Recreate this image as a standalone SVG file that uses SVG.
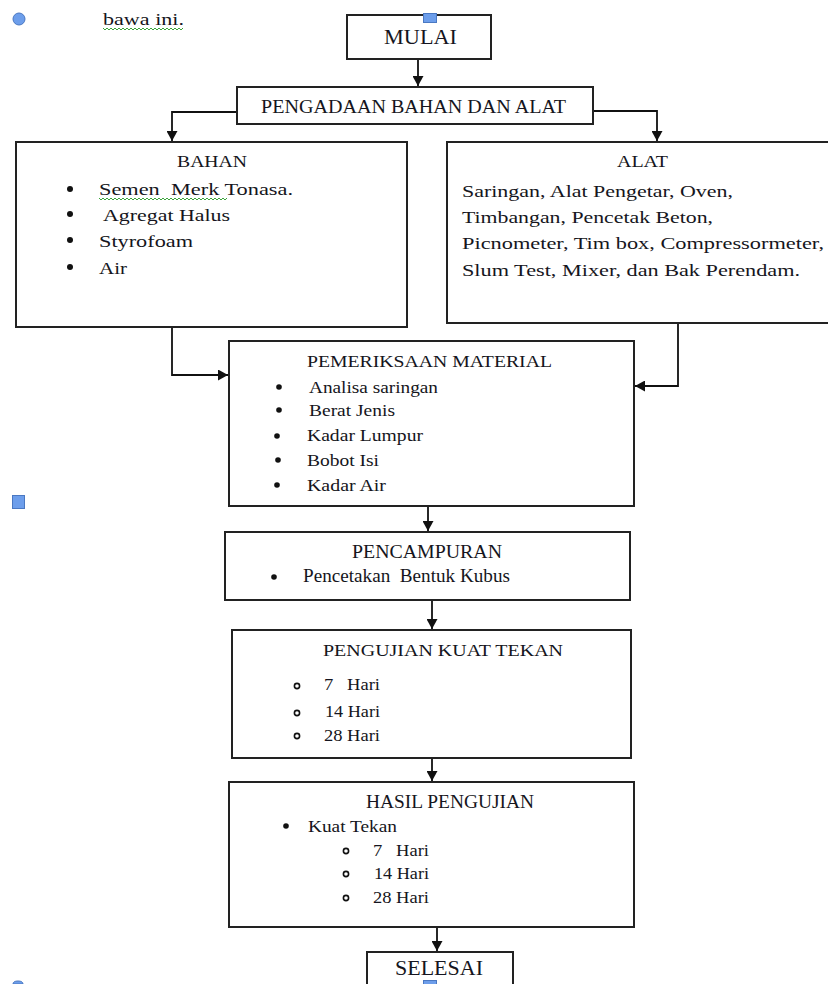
<svg xmlns="http://www.w3.org/2000/svg" width="828" height="984" viewBox="0 0 828 984">
<style>
.box{fill:#fff;stroke:#222;stroke-width:2}
.t{font-family:"Liberation Serif","Times New Roman",serif;fill:#151520;white-space:pre}
.c{fill:none;stroke:#111;stroke-width:1.8}
.dot{fill:#111}
.o{fill:none;stroke:#111;stroke-width:1.6}
.blue{fill:#6d9eeb;stroke:#4a78c2;stroke-width:1}
.wave{fill:none;stroke:#3aa53a;stroke-width:1}
</style>
<defs>
<marker id="ah" markerUnits="userSpaceOnUse" markerWidth="11" markerHeight="11" refX="10" refY="5.5" orient="auto">
<path d="M0,0 L10,5.5 L0,11 z" fill="#111"/>
</marker>
</defs>
<rect width="828" height="984" fill="#fff"/>

<g id="page-marks">
<circle class="blue" cx="19" cy="19" r="6"/>
<text class="t" x="103" y="25" font-size="17" textLength="81" lengthAdjust="spacingAndGlyphs">bawa ini.</text>
<path class="wave" d="M103,28 l2,2 l2,-2 l2,2 l2,-2 l2,2 l2,-2 l2,2 l2,-2 l2,2 l2,-2 l2,2 l2,-2 l2,2 l2,-2 l2,2 l2,-2 l2,2 l2,-2 l2,2 l2,-2 l2,2 l2,-2 l2,2 l2,-2 l2,2 l2,-2 l2,2 l2,-2 l2,2 l2,-2 l2,2 l2,-2 l2,2 l2,-2 l2,2 l2,-2 l2,2 l2,-2 l2,2 l2,-2"/>
<rect class="blue" x="12.5" y="495.5" width="12" height="13"/>
<path class="blue" d="M13,984 a5,3 0 0 1 10,0 z"/>
</g>

<g id="connectors">
<path class="c" d="M418,59 V86" marker-end="url(#ah)"/>
<path class="c" d="M237,112 H172 V141" marker-end="url(#ah)"/>
<path class="c" d="M593,111 H657 V141" marker-end="url(#ah)"/>
<path class="c" d="M172,327 V375 H228" marker-end="url(#ah)"/>
<path class="c" d="M678,323 V386 H635" marker-end="url(#ah)"/>
<path class="c" d="M428,506 V531" marker-end="url(#ah)"/>
<path class="c" d="M432,600 V629" marker-end="url(#ah)"/>
<path class="c" d="M432,758 V781" marker-end="url(#ah)"/>
<path class="c" d="M437,927 V951" marker-end="url(#ah)"/>
</g>

<g id="mulai">
<rect class="box" x="347" y="15" width="144" height="44"/>
<text class="t" x="384" y="44" font-size="21" textLength="73" lengthAdjust="spacingAndGlyphs">MULAI</text>
<rect class="blue" x="423.5" y="13.5" width="13" height="9"/>
</g>

<g id="pengadaan">
<rect class="box" x="237" y="87" width="356" height="37"/>
<text class="t" x="261" y="113" font-size="19.5" textLength="305" lengthAdjust="spacingAndGlyphs">PENGADAAN BAHAN DAN ALAT</text>
</g>

<g id="bahan">
<rect class="box" x="16" y="142" width="391" height="185"/>
<text class="t" x="177" y="167" font-size="16.5" textLength="70" lengthAdjust="spacingAndGlyphs">BAHAN</text>
<circle class="dot" cx="70" cy="189" r="3"/>
<circle class="dot" cx="70" cy="214" r="3"/>
<circle class="dot" cx="70" cy="240" r="3"/>
<circle class="dot" cx="70" cy="267" r="3"/>
<text class="t" x="99" y="195" font-size="17.5" textLength="194" lengthAdjust="spacingAndGlyphs">Semen  Merk Tonasa.</text>
<path class="wave" d="M99,198 l2,2 l2,-2 l2,2 l2,-2 l2,2 l2,-2 l2,2 l2,-2 l2,2 l2,-2 l2,2 l2,-2 l2,2 l2,-2 l2,2 l2,-2 l2,2 l2,-2 l2,2 l2,-2 l2,2 l2,-2 l2,2 l2,-2 l2,2 l2,-2 l2,2 l2,-2 l2,2 l2,-2 l2,2 l2,-2 l2,2 l2,-2 l2,2 l2,-2 l2,2 l2,-2 l2,2 l2,-2 l2,2 l2,-2 l2,2 l2,-2 l2,2 l2,-2 l2,2 l2,-2 l2,2 l2,-2 l2,2 l2,-2 l2,2 l2,-2 l2,2 l2,-2 l2,2 l2,-2 l2,2 l2,-2 l2,2 l2,-2 l2,2 l2,-2"/>
<text class="t" x="103" y="221" font-size="17.5" textLength="127" lengthAdjust="spacingAndGlyphs">Agregat Halus</text>
<text class="t" x="99" y="247" font-size="17.5" textLength="94" lengthAdjust="spacingAndGlyphs">Styrofoam</text>
<text class="t" x="99" y="274" font-size="17.5" textLength="28" lengthAdjust="spacingAndGlyphs">Air</text>
</g>

<g id="alat">
<rect class="box" x="447" y="142" width="395" height="181"/>
<text class="t" x="617" y="167" font-size="17" textLength="51" lengthAdjust="spacingAndGlyphs">ALAT</text>
<text class="t" x="462" y="197" font-size="17.5" textLength="271" lengthAdjust="spacingAndGlyphs">Saringan, Alat Pengetar, Oven,</text>
<text class="t" x="462" y="223" font-size="17.5" textLength="251" lengthAdjust="spacingAndGlyphs">Timbangan, Pencetak Beton,</text>
<text class="t" x="462" y="249" font-size="17.5" textLength="362" lengthAdjust="spacingAndGlyphs">Picnometer, Tim box, Compressormeter,</text>
<text class="t" x="462" y="276" font-size="17.5" textLength="338" lengthAdjust="spacingAndGlyphs">Slum Test, Mixer, dan Bak Perendam.</text>
</g>

<g id="pemeriksaan">
<rect class="box" x="229" y="341" width="405" height="165"/>
<text class="t" x="307" y="367" font-size="17.5" textLength="245" lengthAdjust="spacingAndGlyphs">PEMERIKSAAN MATERIAL</text>
<circle class="dot" cx="279" cy="387" r="2.8"/>
<circle class="dot" cx="279" cy="410" r="2.8"/>
<circle class="dot" cx="277" cy="436" r="2.8"/>
<circle class="dot" cx="278" cy="460" r="2.8"/>
<circle class="dot" cx="277" cy="485" r="2.8"/>
<text class="t" x="309" y="393" font-size="16.5" textLength="129" lengthAdjust="spacingAndGlyphs">Analisa saringan</text>
<text class="t" x="309" y="416" font-size="16.5" textLength="86" lengthAdjust="spacingAndGlyphs">Berat Jenis</text>
<text class="t" x="307" y="441" font-size="16.5" textLength="116" lengthAdjust="spacingAndGlyphs">Kadar Lumpur</text>
<text class="t" x="307" y="466" font-size="16.5" textLength="72" lengthAdjust="spacingAndGlyphs">Bobot Isi</text>
<text class="t" x="307" y="491" font-size="16.5" textLength="79" lengthAdjust="spacingAndGlyphs">Kadar Air</text>
</g>

<g id="pencampuran">
<rect class="box" x="225" y="532" width="405" height="68"/>
<text class="t" x="352" y="558" font-size="19" textLength="150" lengthAdjust="spacingAndGlyphs">PENCAMPURAN</text>
<circle class="dot" cx="274" cy="577" r="2.8"/>
<text class="t" x="303" y="582" font-size="18" textLength="207" lengthAdjust="spacingAndGlyphs">Pencetakan  Bentuk Kubus</text>
</g>

<g id="pengujian">
<rect class="box" x="232" y="630" width="399" height="128"/>
<text class="t" x="323" y="656" font-size="17.5" textLength="240" lengthAdjust="spacingAndGlyphs">PENGUJIAN KUAT TEKAN</text>
<circle class="o" cx="297" cy="686" r="2.6"/>
<circle class="o" cx="297" cy="713" r="2.6"/>
<circle class="o" cx="297" cy="736" r="2.6"/>
<text class="t" x="324" y="690" font-size="16" textLength="56" lengthAdjust="spacingAndGlyphs">7   Hari</text>
<text class="t" x="325" y="717" font-size="16" textLength="55" lengthAdjust="spacingAndGlyphs">14 Hari</text>
<text class="t" x="324" y="741" font-size="16" textLength="56" lengthAdjust="spacingAndGlyphs">28 Hari</text>
</g>

<g id="hasil">
<rect class="box" x="229" y="782" width="405" height="145"/>
<text class="t" x="366" y="808" font-size="18.5" textLength="168" lengthAdjust="spacingAndGlyphs">HASIL PENGUJIAN</text>
<circle class="dot" cx="286" cy="826" r="2.8"/>
<text class="t" x="308" y="832" font-size="16" textLength="89" lengthAdjust="spacingAndGlyphs">Kuat Tekan</text>
<circle class="o" cx="346" cy="851" r="2.6"/>
<circle class="o" cx="346" cy="874" r="2.6"/>
<circle class="o" cx="346" cy="898" r="2.6"/>
<text class="t" x="373" y="856" font-size="16" textLength="56" lengthAdjust="spacingAndGlyphs">7   Hari</text>
<text class="t" x="374" y="879" font-size="16" textLength="55" lengthAdjust="spacingAndGlyphs">14 Hari</text>
<text class="t" x="373" y="903" font-size="16" textLength="56" lengthAdjust="spacingAndGlyphs">28 Hari</text>
</g>

<g id="selesai">
<rect class="box" x="367" y="952" width="146" height="40"/>
<text class="t" x="395" y="975" font-size="20" textLength="88" lengthAdjust="spacingAndGlyphs">SELESAI</text>
<rect class="blue" x="423.5" y="980.5" width="13" height="8"/>
</g>
</svg>
